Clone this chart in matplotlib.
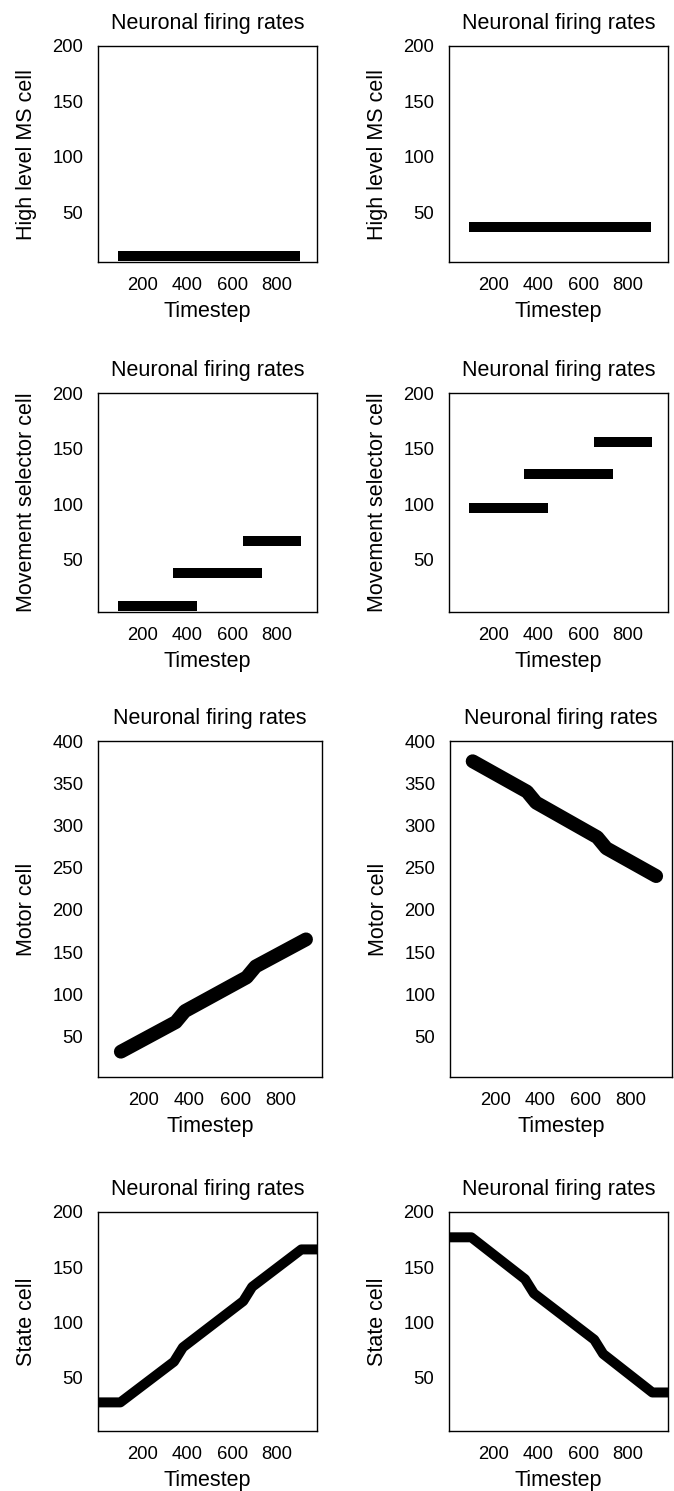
import matplotlib.pyplot as plt

plt.rcParams['font.family'] = ['Liberation Sans', 'DejaVu Sans']

# 横轴 (Timestep) 范围
x_max = 980

# 第一行: High level MS cell
high_ms_t = [90, 905]
high_ms_left_v = [10, 10]
high_ms_right_v = [37, 37]

# 第二行: Movement selector cell, 三段水平线
ms_starts = [90, 335, 650]
ms_ends = [445, 735, 910]
ms_left_v = [8, 38, 67]
ms_right_v = [97, 127, 156]

# 第三行: Motor cell
motor_t = [100, 340, 380, 650, 690, 910]
motor_left_v = [32, 67, 80, 120, 133, 165]
motor_right_v = [376, 340, 327, 286, 273, 240]

# 第四行: State cell
state_t = [0, 100, 340, 380, 650, 690, 910, 1000]
state_left_v = [27, 27, 64, 77, 119, 132, 166, 166]
state_right_v = [177, 177, 139, 126, 84, 71, 36, 36]

W, H = 674, 1491


def px_rect(left, top, right, bottom):
    # 像素坐标 -> figure 坐标
    return [left / W, 1 - bottom / H, (right - left) / W, (bottom - top) / H]


def setup_axes(ax, ylabel, ylim, yticks):
    ax.set_xlim(0, x_max)
    ax.set_ylim(*ylim)
    ax.set_xticks([200, 400, 600, 800])
    ax.set_yticks(yticks)
    ax.tick_params(length=0, pad=10.5, labelsize=13.3)
    for sp in ax.spines.values():
        sp.set_linewidth(1.0)
    ax.set_title('Neuronal firing rates', fontsize=15.5, pad=12.5)
    ax.set_xlabel('Timestep', fontsize=15.5, labelpad=5.5)
    ax.set_ylabel(ylabel, fontsize=15.5, labelpad=11)


fig = plt.figure(figsize=(W / 100, H / 100), dpi=100)

# 各行坐标轴位置 (像素)
rows = [(46, 262), (393, 612), (741, 1077), (1212, 1431)]
cols = [(98, 317), (449, 668)]
cols_wide = [(98, 322), (450, 672)]

# 第一行
for c, v in enumerate([high_ms_left_v, high_ms_right_v]):
    ax = fig.add_axes(px_rect(cols[c][0], rows[0][0], cols[c][1], rows[0][1]))
    ax.plot(high_ms_t, v, color='black', lw=7.2, solid_capstyle='butt')
    setup_axes(ax, 'High level MS cell', (5, 200), [50, 100, 150, 200])

# 第二行
for c, vals in enumerate([ms_left_v, ms_right_v]):
    ax = fig.add_axes(px_rect(cols[c][0], rows[1][0], cols[c][1], rows[1][1]))
    for s, e, v in zip(ms_starts, ms_ends, vals):
        ax.plot([s, e], [v, v], color='black', lw=7.2, solid_capstyle='butt')
    setup_axes(ax, 'Movement selector cell', (3, 200), [50, 100, 150, 200])

# 第三行
for c, v in enumerate([motor_left_v, motor_right_v]):
    ax = fig.add_axes(px_rect(cols_wide[c][0], rows[2][0], cols_wide[c][1], rows[2][1]))
    ax.plot(motor_t, v, color='black', lw=10, solid_capstyle='round',
            solid_joinstyle='round')
    setup_axes(ax, 'Motor cell', (2, 400), [50, 100, 150, 200, 250, 300, 350, 400])

# 第四行
for c, v in enumerate([state_left_v, state_right_v]):
    ax = fig.add_axes(px_rect(cols[c][0], rows[3][0], cols[c][1], rows[3][1]))
    ax.plot(state_t, v, color='black', lw=7.2, solid_joinstyle='round')
    setup_axes(ax, 'State cell', (1, 200), [50, 100, 150, 200])

plt.savefig('out.png', dpi=100)
plt.close()
